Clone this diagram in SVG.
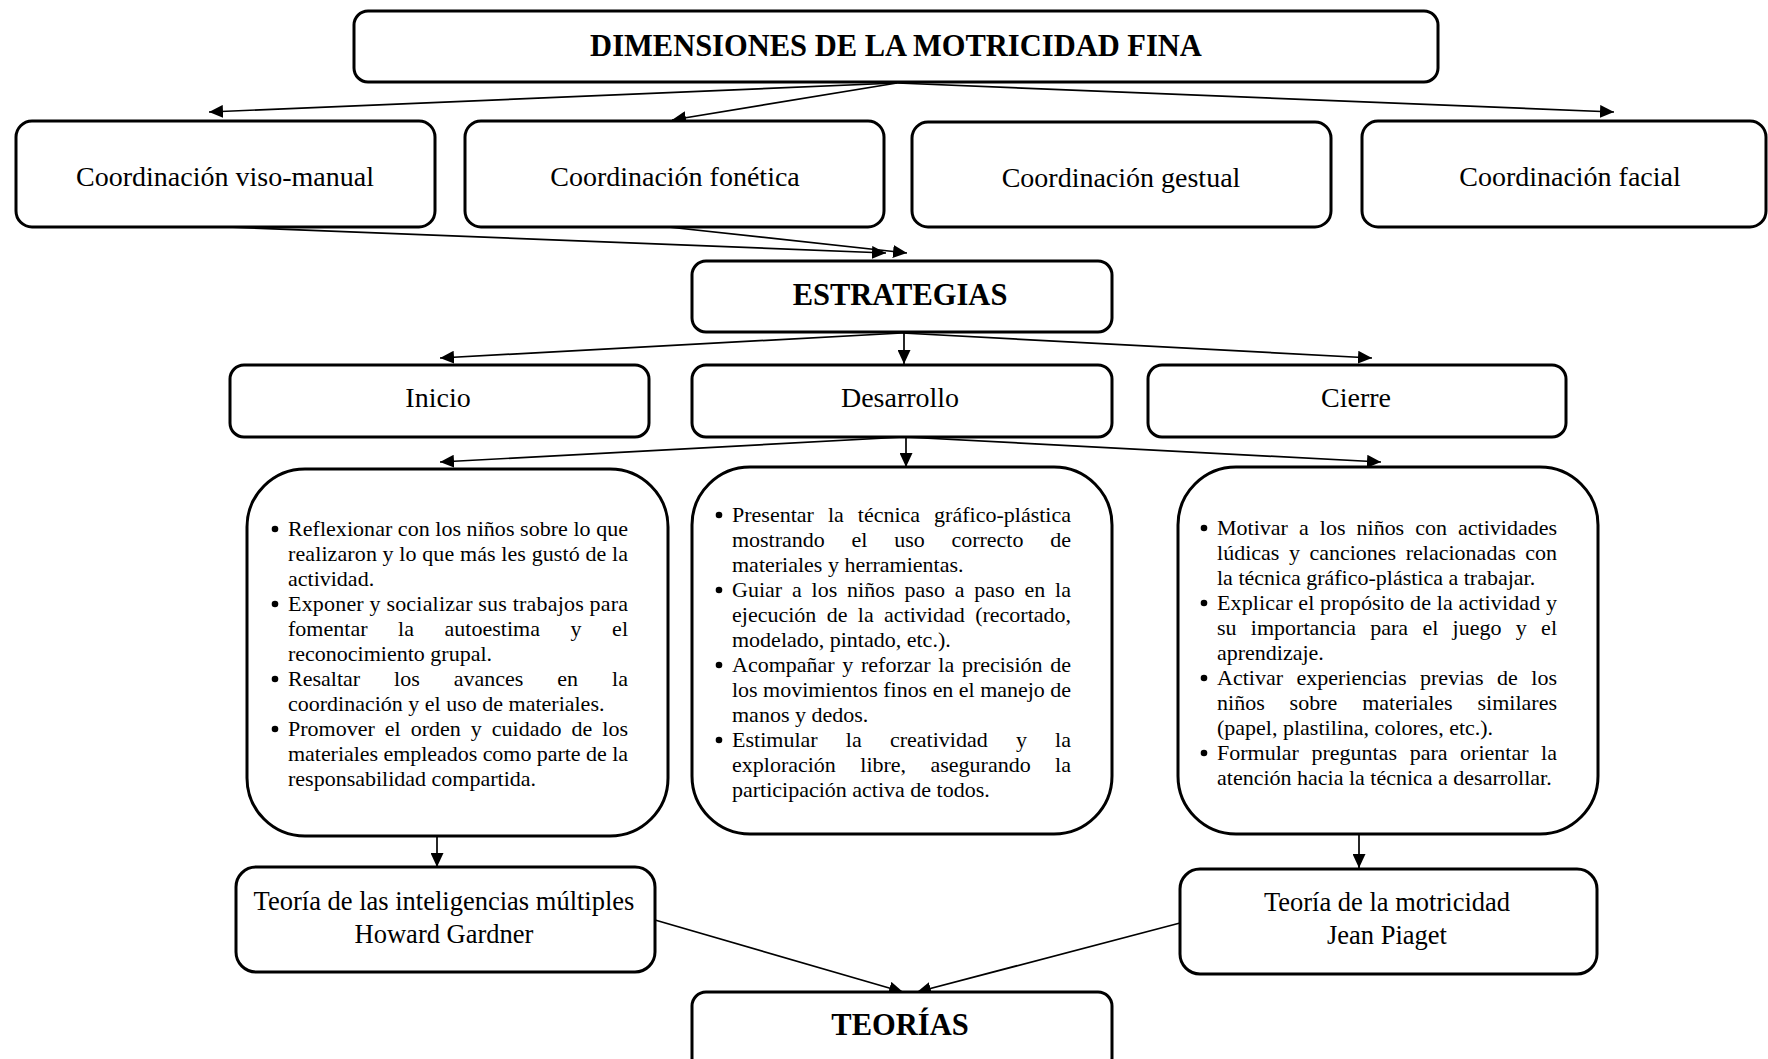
<svg xmlns="http://www.w3.org/2000/svg" width="1768" height="1059" viewBox="0 0 1768 1059">
<defs>
<style>
.box{fill:#fff;stroke:#000;stroke-width:3}
.lbl{font-family:"Liberation Serif","Times New Roman",serif;fill:#000;text-anchor:middle}
.b{font-weight:bold;font-size:30.5px}
.m{font-size:28px}
.t{font-size:26.5px}
.p{font-family:"Liberation Serif","Times New Roman",serif;font-size:22px;fill:#000}
.dot{fill:#000}
.con{fill:none;stroke:#000;stroke-width:1.7;marker-end:url(#ah)}
</style>
<marker id="ah" markerUnits="userSpaceOnUse" markerWidth="15" markerHeight="13" refX="14" refY="6.5" orient="auto">
<path d="M0,0 L14,6.5 L0,13 z" fill="#000"/>
</marker>
</defs>
<rect width="1768" height="1059" fill="#fff"/>

<g id="connectors">
<path class="con" d="M897,83 L209,112"/>
<path class="con" d="M897,83 L672,120"/>
<path class="con" d="M897,83 L1614,112"/>
<path class="con" d="M227,227 L886,253"/>
<path class="con" d="M668,227 L907,253"/>
<path class="con" d="M902,333 L440,358"/>
<path class="con" d="M904,333 L904,364"/>
<path class="con" d="M902,333 L1372,358"/>
<path class="con" d="M904,437 L440,462"/>
<path class="con" d="M906,437 L906,467"/>
<path class="con" d="M904,437 L1381,462"/>
<path class="con" d="M437,835 L437,867"/>
<path class="con" d="M1359,835 L1359,868"/>
<path class="con" d="M655,920 L903,992"/>
<path class="con" d="M1180,923 L917,992"/>
</g>

<g id="title">
<rect class="box" x="354" y="11" width="1084" height="71" rx="14"/>
<text class="lbl b" x="896" y="56">DIMENSIONES DE LA MOTRICIDAD FINA</text>
</g>

<g id="coord-visomanual">
<rect class="box" x="16" y="121" width="419" height="106" rx="16"/>
<text class="lbl m" x="225" y="186">Coordinación viso-manual</text>
</g>
<g id="coord-fonetica">
<rect class="box" x="465" y="121" width="419" height="106" rx="16"/>
<text class="lbl m" x="675" y="186">Coordinación fonética</text>
</g>
<g id="coord-gestual">
<rect class="box" x="912" y="122" width="419" height="105" rx="16"/>
<text class="lbl m" x="1121" y="187">Coordinación gestual</text>
</g>
<g id="coord-facial">
<rect class="box" x="1362" y="121" width="404" height="106" rx="16"/>
<text class="lbl m" x="1570" y="186">Coordinación facial</text>
</g>

<g id="estrategias">
<rect class="box" x="692" y="261" width="420" height="71" rx="14"/>
<text class="lbl b" x="900" y="305">ESTRATEGIAS</text>
</g>

<g id="inicio">
<rect class="box" x="230" y="365" width="419" height="72" rx="14"/>
<text class="lbl m" x="438" y="407">Inicio</text>
</g>
<g id="desarrollo">
<rect class="box" x="692" y="365" width="420" height="72" rx="14"/>
<text class="lbl m" x="900" y="407">Desarrollo</text>
</g>
<g id="cierre">
<rect class="box" x="1148" y="365" width="418" height="72" rx="14"/>
<text class="lbl m" x="1356" y="407">Cierre</text>
</g>

<g id="inicio-actividades">
<rect class="box" x="247" y="469" width="421" height="367" rx="58"/>
<circle class="dot" cx="275" cy="529" r="3.3"/>
<text class="p" x="288" y="536" textLength="340" lengthAdjust="spacing">Reflexionar con los niños sobre lo que</text>
<text class="p" x="288" y="561" textLength="340" lengthAdjust="spacing">realizaron y lo que más les gustó de la</text>
<text class="p" x="288" y="586">actividad.</text>
<circle class="dot" cx="275" cy="604" r="3.3"/>
<text class="p" x="288" y="611" textLength="340" lengthAdjust="spacing">Exponer y socializar sus trabajos para</text>
<text class="p" x="288" y="636" word-spacing="25" textLength="340" lengthAdjust="spacing">fomentar la autoestima y el</text>
<text class="p" x="288" y="661">reconocimiento grupal.</text>
<circle class="dot" cx="275" cy="679" r="3.3"/>
<text class="p" x="288" y="686" word-spacing="28.5" textLength="340" lengthAdjust="spacing">Resaltar los avances en la</text>
<text class="p" x="288" y="711">coordinación y el uso de materiales.</text>
<circle class="dot" cx="275" cy="729" r="3.3"/>
<text class="p" x="288" y="736" word-spacing="4.5" textLength="340" lengthAdjust="spacing">Promover el orden y cuidado de los</text>
<text class="p" x="288" y="761" textLength="340" lengthAdjust="spacing">materiales empleados como parte de la</text>
<text class="p" x="288" y="786">responsabilidad compartida.</text>
</g>

<g id="desarrollo-actividades">
<rect class="box" x="692" y="467" width="420" height="367" rx="58"/>
<circle class="dot" cx="719" cy="515" r="3.3"/>
<text class="p" x="732" y="522" word-spacing="8.5" textLength="339" lengthAdjust="spacing">Presentar la técnica gráfico-plástica</text>
<text class="p" x="732" y="547" word-spacing="21.4" textLength="339" lengthAdjust="spacing">mostrando el uso correcto de</text>
<text class="p" x="732" y="572">materiales y herramientas.</text>
<circle class="dot" cx="719" cy="590" r="3.3"/>
<text class="p" x="732" y="597" word-spacing="4.3" textLength="339" lengthAdjust="spacing">Guiar a los niños paso a paso en la</text>
<text class="p" x="732" y="622" word-spacing="4.9" textLength="339" lengthAdjust="spacing">ejecución de la actividad (recortado,</text>
<text class="p" x="732" y="647">modelado, pintado, etc.).</text>
<circle class="dot" cx="719" cy="665" r="3.3"/>
<text class="p" x="732" y="672" word-spacing="2.2" textLength="339" lengthAdjust="spacing">Acompañar y reforzar la precisión de</text>
<text class="p" x="732" y="697" textLength="339" lengthAdjust="spacing">los movimientos finos en el manejo de</text>
<text class="p" x="732" y="722">manos y dedos.</text>
<circle class="dot" cx="719" cy="740" r="3.3"/>
<text class="p" x="732" y="747" word-spacing="22.7" textLength="339" lengthAdjust="spacing">Estimular la creatividad y la</text>
<text class="p" x="732" y="772" word-spacing="18.9" textLength="339" lengthAdjust="spacing">exploración libre, asegurando la</text>
<text class="p" x="732" y="797">participación activa de todos.</text>
</g>

<g id="cierre-actividades">
<rect class="box" x="1178" y="467" width="420" height="367" rx="58"/>
<circle class="dot" cx="1204" cy="528" r="3.3"/>
<text class="p" x="1217" y="535" word-spacing="5.6" textLength="340" lengthAdjust="spacing">Motivar a los niños con actividades</text>
<text class="p" x="1217" y="560" word-spacing="4" textLength="340" lengthAdjust="spacing">lúdicas y canciones relacionadas con</text>
<text class="p" x="1217" y="585">la técnica gráfico-plástica a trabajar.</text>
<circle class="dot" cx="1204" cy="603" r="3.3"/>
<text class="p" x="1217" y="610" textLength="340" lengthAdjust="spacing">Explicar el propósito de la actividad y</text>
<text class="p" x="1217" y="635" word-spacing="8.8" textLength="340" lengthAdjust="spacing">su importancia para el juego y el</text>
<text class="p" x="1217" y="660">aprendizaje.</text>
<circle class="dot" cx="1204" cy="678" r="3.3"/>
<text class="p" x="1217" y="685" word-spacing="8" textLength="340" lengthAdjust="spacing">Activar experiencias previas de los</text>
<text class="p" x="1217" y="710" word-spacing="19.4" textLength="340" lengthAdjust="spacing">niños sobre materiales similares</text>
<text class="p" x="1217" y="735">(papel, plastilina, colores, etc.).</text>
<circle class="dot" cx="1204" cy="753" r="3.3"/>
<text class="p" x="1217" y="760" word-spacing="7.1" textLength="340" lengthAdjust="spacing">Formular preguntas para orientar la</text>
<text class="p" x="1217" y="785">atención hacia la técnica a desarrollar.</text>
</g>

<g id="teoria-gardner">
<rect class="box" x="236" y="867" width="419" height="105" rx="20"/>
<text class="lbl t" x="444" y="910">Teoría de las inteligencias múltiples</text>
<text class="lbl t" x="444" y="943">Howard Gardner</text>
</g>
<g id="teoria-piaget">
<rect class="box" x="1180" y="869" width="417" height="105" rx="20"/>
<text class="lbl t" x="1387" y="911">Teoría de la motricidad</text>
<text class="lbl t" x="1387" y="944">Jean Piaget</text>
</g>

<g id="teorias">
<rect class="box" x="692" y="992" width="420" height="80" rx="14"/>
<text class="lbl b" x="900" y="1035">TEORÍAS</text>
</g>
</svg>
